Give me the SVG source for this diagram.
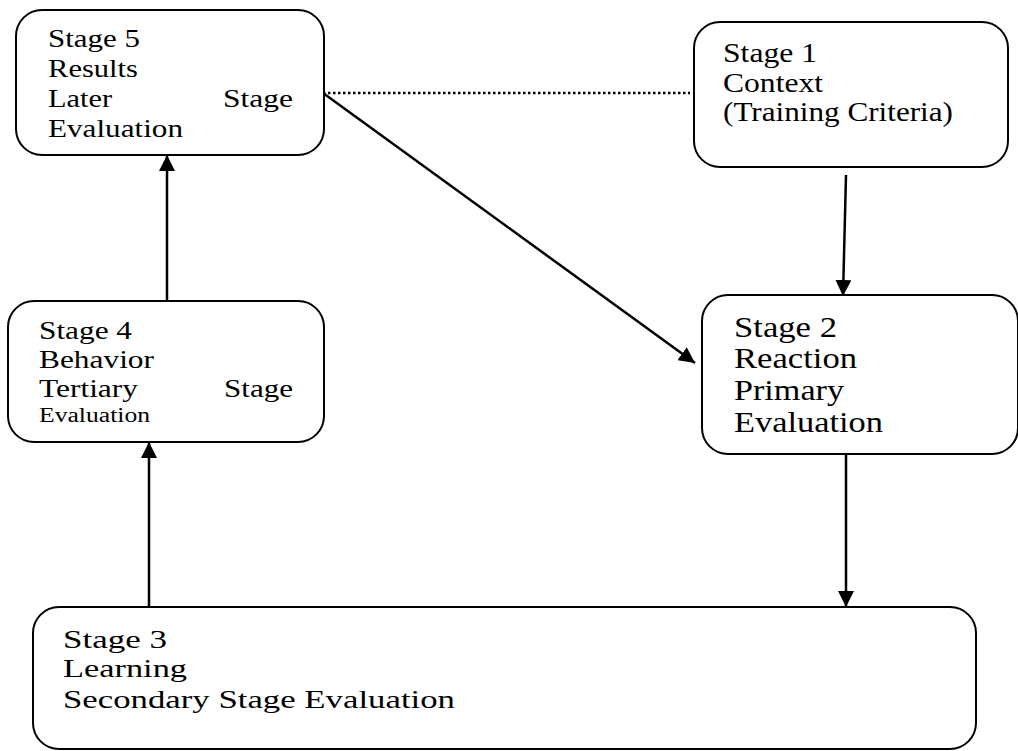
<svg xmlns="http://www.w3.org/2000/svg" width="1018" height="751" viewBox="0 0 1018 751">
<style>
.box{fill:#fff;stroke:#000;stroke-width:2}
.t{font-family:"Liberation Serif","Times New Roman",serif;fill:#000}
.c{stroke:#000;stroke-width:2.5;fill:none}
</style>
<defs>
<marker id="ah" markerUnits="userSpaceOnUse" markerWidth="16" markerHeight="16" viewBox="0 0 16 16" refX="16" refY="8" orient="auto">
<path d="M0,0 L16,8 L0,16 Z" fill="#000"/>
</marker>
</defs>
<rect width="1018" height="751" fill="#fff"/>
<g id="connectors">
<line class="c" x1="323" y1="93" x2="690" y2="93" stroke-dasharray="2.5,2.5" stroke-width="2.2"/>
<line class="c" x1="323" y1="93" x2="695" y2="363" marker-end="url(#ah)"/>
<line class="c" x1="846" y1="175" x2="843" y2="296" marker-end="url(#ah)"/>
<line class="c" x1="846" y1="444" x2="846" y2="607" marker-end="url(#ah)"/>
<line class="c" x1="149" y1="607" x2="149" y2="442" marker-end="url(#ah)"/>
<line class="c" x1="167" y1="301" x2="167" y2="155" marker-end="url(#ah)"/>
</g>
<g id="stage5">
<rect class="box" x="16" y="10" width="308" height="145" rx="26"/>
<g class="t" font-size="26">
<text x="48" y="47" textLength="92" lengthAdjust="spacingAndGlyphs">Stage 5</text>
<text x="48" y="77" textLength="90" lengthAdjust="spacingAndGlyphs">Results</text>
<text x="48" y="107" textLength="64" lengthAdjust="spacingAndGlyphs">Later</text>
<text x="223" y="107" textLength="70" lengthAdjust="spacingAndGlyphs">Stage</text>
<text x="48" y="137" textLength="135" lengthAdjust="spacingAndGlyphs">Evaluation</text>
</g>
</g>
<g id="stage1">
<rect class="box" x="694" y="22" width="314" height="145" rx="26"/>
<g class="t" font-size="27">
<text x="723" y="62" textLength="94" lengthAdjust="spacingAndGlyphs">Stage 1</text>
<text x="723" y="92" textLength="100" lengthAdjust="spacingAndGlyphs">Context</text>
<text x="723" y="121" textLength="230" lengthAdjust="spacingAndGlyphs">(Training Criteria)</text>
</g>
</g>
<g id="stage4">
<rect class="box" x="8" y="301" width="316" height="141" rx="26"/>
<g class="t" font-size="26">
<text x="39" y="339" textLength="93" lengthAdjust="spacingAndGlyphs">Stage 4</text>
<text x="39" y="368" textLength="115" lengthAdjust="spacingAndGlyphs">Behavior</text>
<text x="39" y="397" textLength="99" lengthAdjust="spacingAndGlyphs">Tertiary</text>
<text x="224" y="397" textLength="69" lengthAdjust="spacingAndGlyphs">Stage</text>
<text x="39" y="422" font-size="20" textLength="111" lengthAdjust="spacingAndGlyphs">Evaluation</text>
</g>
</g>
<g id="stage2">
<rect class="box" x="702" y="295" width="316" height="159" rx="26"/>
<g class="t" font-size="30">
<text x="734" y="337" textLength="103" lengthAdjust="spacingAndGlyphs">Stage 2</text>
<text x="734" y="368" textLength="123" lengthAdjust="spacingAndGlyphs">Reaction</text>
<text x="734" y="400" textLength="110" lengthAdjust="spacingAndGlyphs">Primary</text>
<text x="734" y="432" textLength="149" lengthAdjust="spacingAndGlyphs">Evaluation</text>
</g>
</g>
<g id="stage3">
<rect class="box" x="33" y="607" width="943" height="142" rx="26"/>
<g class="t" font-size="26">
<text x="63" y="648" textLength="104" lengthAdjust="spacingAndGlyphs">Stage 3</text>
<text x="63" y="677" textLength="124" lengthAdjust="spacingAndGlyphs">Learning</text>
<text x="63" y="708" textLength="392" lengthAdjust="spacingAndGlyphs">Secondary Stage Evaluation</text>
</g>
</g>
</svg>
